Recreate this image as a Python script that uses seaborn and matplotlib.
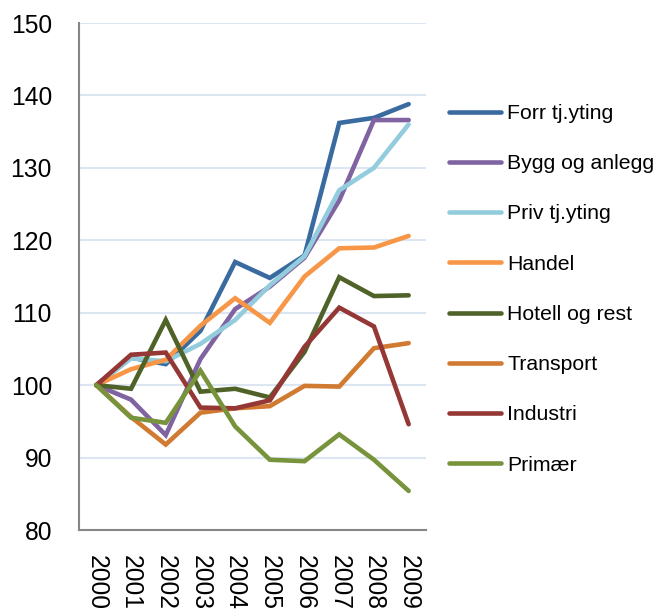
import matplotlib
matplotlib.use("Agg")
import matplotlib.pyplot as plt
from matplotlib.lines import Line2D
from matplotlib.ticker import FixedLocator, NullFormatter, FixedFormatter
import seaborn as sns
import pandas as pd

years = ["2000", "2001", "2002", "2003", "2004", "2005", "2006", "2007", "2008", "2009"]

forr_tj = [100, 103.8, 102.9, 107.5, 117.0, 114.8, 117.9, 136.2, 136.9, 138.8]
bygg = [100, 98.0, 93.1, 103.6, 110.5, 113.6, 117.6, 125.5, 136.6, 136.6]
priv_tj = [100, 103.7, 103.3, 105.7, 109.0, 113.8, 117.8, 126.9, 130.0, 136.0]
handel = [100, 102.2, 103.5, 108.2, 112.0, 108.6, 115.0, 118.9, 119.0, 120.6]
hotell = [100, 99.5, 109.0, 99.1, 99.5, 98.3, 104.6, 114.9, 112.3, 112.4]
transport = [100, 95.6, 91.8, 96.2, 96.8, 97.1, 99.9, 99.8, 105.1, 105.8]
industri = [100, 104.2, 104.5, 96.9, 96.8, 97.9, 105.3, 110.7, 108.1, 94.6]
primaer = [100, 95.5, 94.8, 102.0, 94.3, 89.7, 89.5, 93.2, 89.7, 85.4]

series_names = ["Forr tj.yting", "Bygg og anlegg", "Priv tj.yting", "Handel",
                "Hotell og rest", "Transport", "Industri", "Primær"]
series_values = [forr_tj, bygg, priv_tj, handel, hotell, transport, industri, primaer]
colors = ["#3A6BA0", "#8064A2", "#93CDDD", "#F79646",
          "#4F6228", "#D07A32", "#953735", "#77933C"]

y_ticks = [80, 90, 100, 110, 120, 130, 140, 150]

rows = []
for name, vals in zip(series_names, series_values):
    for i, v in enumerate(vals):
        rows.append({"idx": i, "value": v, "series": name})
df = pd.DataFrame(rows)

sns.set_style("white")
plt.rcParams["font.family"] = ["Liberation Sans", "DejaVu Sans"]

fig = plt.figure(figsize=(6.56, 6.12), dpi=100)
ax = fig.add_axes([79 / 656, 1 - 530 / 612, (426 - 79) / 656, (530 - 23) / 612])

palette = dict(zip(series_names, colors))
sns.lineplot(data=df, x="idx", y="value", hue="series", hue_order=series_names,
             palette=palette, linewidth=3.3, ax=ax, legend=False,
             solid_capstyle="round", solid_joinstyle="miter", sort=False)

ax.set_xlim(-0.5, len(years) - 0.5)
ax.set_ylim(80, 150)
ax.set_yticks(y_ticks)
ax.set_yticklabels([str(t) for t in y_ticks], fontsize=17.7, color="black")

# tick marks at category boundaries, labels at centres
ax.xaxis.set_major_locator(FixedLocator([i - 0.5 for i in range(len(years) + 1)]))
ax.xaxis.set_major_formatter(NullFormatter())
ax.xaxis.set_minor_locator(FixedLocator(list(range(len(years)))))
ax.xaxis.set_minor_formatter(FixedFormatter(years))
ax.tick_params(axis="x", which="minor", length=0, labelsize=17.7, labelrotation=270,
               pad=18, labelcolor="black")
ax.tick_params(axis="x", which="major", length=6, width=1.3, color="#868686", direction="out")
ax.tick_params(axis="y", length=6, width=1.3, color="#868686", direction="out", pad=13.5,
               labelcolor="black")
ax.set_xlabel("")
ax.set_ylabel("")

for lab in ax.get_xticklabels(minor=True):
    lab.set_va("top")
    lab.set_ha("center")

ax.grid(False)
for t in y_ticks[1:]:
    ax.axhline(t, color="#DCE6F2", linewidth=1.5, zorder=0)

for s in ["top", "right"]:
    ax.spines[s].set_visible(False)
for s in ["left", "bottom"]:
    ax.spines[s].set_color("#868686")
    ax.spines[s].set_linewidth(1.5)

handles = [Line2D([0], [0], color=c, linewidth=3.3, solid_capstyle="round") for c in colors]
leg = fig.legend(handles, series_names, loc="upper left",
                 bbox_to_anchor=(449 / 656, 1 - 104 / 612), frameon=False,
                 fontsize=15.3, handlelength=2.45, handletextpad=0.3,
                 labelspacing=1.47, borderpad=0, borderaxespad=0)
for t in leg.get_texts():
    t.set_color("black")

fig.savefig("out.png", dpi=100)
